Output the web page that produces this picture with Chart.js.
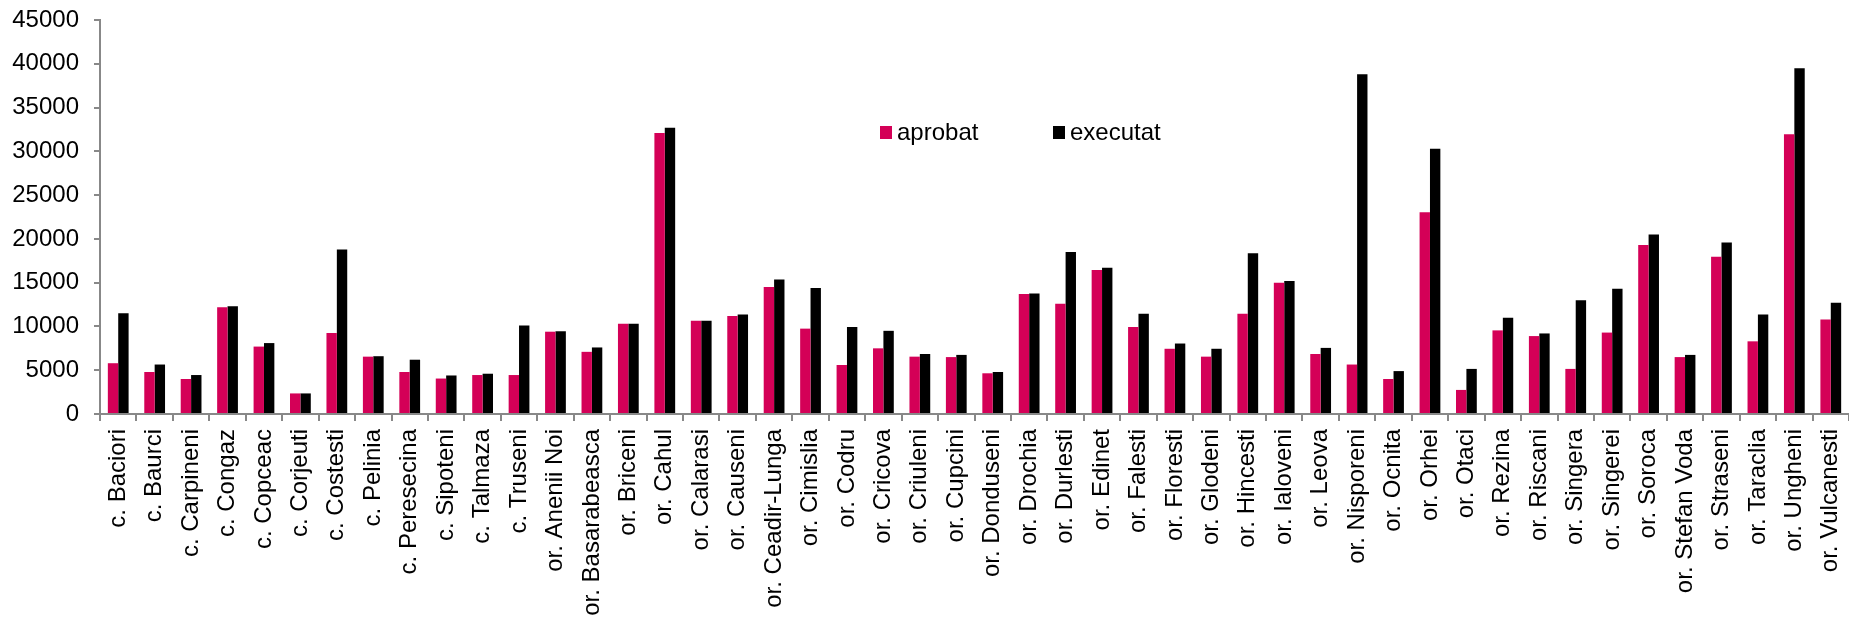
<!DOCTYPE html>
<html>
<head>
<meta charset="utf-8">
<script src="https://cdn.jsdelivr.net/npm/chart.js@4"></script>
<style>
  html, body { margin: 0; padding: 0; background: #fff; }
  #wrap { width: 1849px; height: 619px; }
</style>
</head>
<body>
<div id="wrap"><canvas id="budgetChart"></canvas></div>
<script>
const categories = [
    'c. Baciori', 'c. Baurci', 'c. Carpineni', 'c. Congaz', 'c. Copceac', 'c. Corjeuti',
    'c. Costesti', 'c. Pelinia', 'c. Peresecina', 'c. Sipoteni', 'c. Talmaza', 'c. Truseni',
    'or. Anenii Noi', 'or. Basarabeasca', 'or. Briceni', 'or. Cahul', 'or. Calarasi', 'or. Causeni',
    'or. Ceadir-Lunga', 'or. Cimislia', 'or. Codru', 'or. Cricova', 'or. Criuleni', 'or. Cupcini',
    'or. Donduseni', 'or. Drochia', 'or. Durlesti', 'or. Edinet', 'or. Falesti', 'or. Floresti',
    'or. Glodeni', 'or. Hincesti', 'or. Ialoveni', 'or. Leova', 'or. Nisporeni', 'or. Ocnita',
    'or. Orhei', 'or. Otaci', 'or. Rezina', 'or. Riscani', 'or. Singera', 'or. Singerei',
    'or. Soroca', 'or. Stefan Voda', 'or. Straseni', 'or. Taraclia', 'or. Ungheni', 'or. Vulcanesti'
];

const aprobat = [
    5800, 4800, 4000, 12200, 7700, 2350,
    9250, 6550, 4800, 4050, 4450, 4450,
    9400, 7100, 10300, 32100, 10650, 11200,
    14500, 9750, 5600, 7500, 6550, 6500,
    4650, 13700, 12600, 16450, 9950, 7450,
    6550, 11450, 15000, 6850, 5650, 4000,
    23050, 2750, 9550, 8900, 5150, 9300,
    19300, 6500, 17950, 8300, 31950, 10800
];

const executat = [
    11500, 5650, 4450, 12300, 8100, 2350,
    18800, 6600, 6200, 4400, 4600, 10100,
    9450, 7600, 10300, 32700, 10650, 11350,
    15350, 14400, 9950, 9500, 6850, 6750,
    4800, 13750, 18500, 16700, 11450, 8050,
    7450, 18350, 15200, 7550, 38800, 4900,
    30300, 5150, 11000, 9200, 13000, 14300,
    20500, 6750, 19600, 11350, 39500, 12700
];

const seriesNames = ['aprobat', 'executat'];
const seriesColors = ['#D40057', '#000000'];

const fontFamily = '"Liberation Sans", Arial, sans-serif';

// legend drawn inside the plot, like the original
const insideLegend = {
    id: 'insideLegend',
    afterDraw(chart) {
        const ctx = chart.ctx;
        const items = [
            { x: 880, text: seriesNames[0], color: seriesColors[0] },
            { x: 1053, text: seriesNames[1], color: seriesColors[1] }
        ];
        ctx.save();
        ctx.font = '24px ' + fontFamily;
        ctx.textBaseline = 'middle';
        items.forEach(it => {
            ctx.fillStyle = it.color;
            ctx.fillRect(it.x, 126, 12, 13);
            ctx.fillStyle = '#000';
            ctx.fillText(it.text, it.x + 17, 133);
        });
        ctx.restore();
    }
};

const ctx = document.getElementById('budgetChart').getContext('2d');
new Chart(ctx, {
    type: 'bar',
    data: {
        labels: categories,
        datasets: [{
            label: seriesNames[0],
            data: aprobat,
            backgroundColor: seriesColors[0],
            borderWidth: 0
        }, {
            label: seriesNames[1],
            data: executat,
            backgroundColor: seriesColors[1],
            borderWidth: 0
        }]
    },
    options: {
        responsive: true,
        maintainAspectRatio: false,
        animation: false,
        layout: {
            padding: { top: 20, right: 0, bottom: 0, left: 0 }
        },
        datasets: {
            bar: {
                categoryPercentage: 0.57,
                barPercentage: 1.0
            }
        },
        plugins: {
            legend: { display: false },
            tooltip: { enabled: false }
        },
        scales: {
            x: {
                grid: {
                    offset: true,
                    drawOnChartArea: false,
                    drawTicks: true,
                    tickLength: 7,
                    color: '#888',
                    lineWidth: 2
                },
                border: { display: true, color: '#888', width: 2 },
                ticks: {
                    autoSkip: false,
                    maxRotation: 90,
                    minRotation: 90,
                    padding: 8,
                    color: '#000',
                    font: { family: fontFamily, size: 24 }
                },
                afterFit(scale) {
                    scale.height = 205;
                    scale.paddingLeft = 0;
                    scale.paddingRight = 0;
                }
            },
            y: {
                min: 0,
                max: 45000,
                grid: {
                    drawOnChartArea: false,
                    drawTicks: true,
                    tickLength: 6,
                    color: '#888',
                    lineWidth: 2
                },
                border: { display: true, color: '#888', width: 2 },
                ticks: {
                    stepSize: 5000,
                    padding: 15,
                    color: '#000',
                    font: { family: fontFamily, size: 24 },
                    callback: v => String(v)
                },
                afterFit(scale) {
                    scale.width = 100;
                    scale.paddingTop = 0;
                    scale.paddingBottom = 0;
                }
            }
        }
    },
    plugins: [insideLegend]
});
</script>
</body>
</html>
